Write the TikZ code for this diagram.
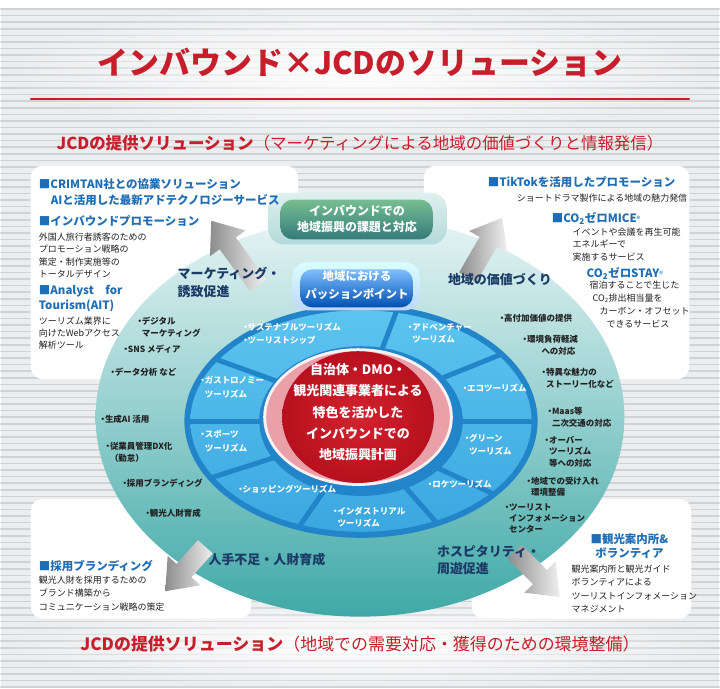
\documentclass[tikz,border=0pt]{standalone}
\usepackage{fontspec}
\setmainfont{Noto Sans CJK JP}
\usetikzlibrary{fadings}
\definecolor{jcdred}{HTML}{C81E2B}
\definecolor{navy}{HTML}{1B3A66}
\definecolor{headblue}{HTML}{1F6DB5}
\definecolor{ink}{HTML}{222222}
\definecolor{ringdark}{HTML}{2285C9}
\definecolor{ringlight}{HTML}{5CC4F0}
\definecolor{ringmid}{HTML}{3BA7E0}
\definecolor{tealdark}{HTML}{3FA9A7}
\definecolor{tealmid}{HTML}{9DD3D2}
\definecolor{tealpale}{HTML}{E6F4F4}
\definecolor{stripebg}{HTML}{ECEDEE}
\definecolor{stripeln}{HTML}{D0D2D4}
\definecolor{redin}{HTML}{D2232F}
\definecolor{redout}{HTML}{B8101E}
\definecolor{redlobe}{HTML}{E9A0A8}
\newcommand\fs[2]{\fontsize{#1}{#2}\selectfont}
\newcommand\dotb{\hbox to .5em{\hss ・\hss}}
\newcommand\ind{\hspace*{.5em}}
\newcommand\regd{{\fontsize{8}{8}\selectfont\mdseries ®}}
\newcommand\outarrow[3]{% tail, angle, length
  \begin{scope}[shift={(#1)}, rotate=#2]
    \shade[outarrow] (0,-10) -- (#3-28,-10) -- (#3-28,-22) -- (#3,0) -- (#3-28,22) -- (#3-28,10) -- (0,10) -- cycle;
  \end{scope}}
\tikzfading[name=glow, inner color=transparent!0, outer color=transparent!100]

\begin{document}
\begin{tikzpicture}[x=1pt, y=-1pt, line join=round, line cap=round,
    head/.style={text=headblue, font=\fs{11.5}{15}\bfseries, anchor=north west, align=left, inner sep=0},
    body/.style={text=ink, font=\fs{9}{12.5}, anchor=north west, align=left, inner sep=0},
    bullet/.style={text=ink, font=\fs{8.5}{11.5}\bfseries, anchor=north west, align=left, inner sep=0},
    theme/.style={text=navy, font=\fs{13}{18}\bfseries, anchor=north west, align=left, inner sep=0},
    seglabel/.style={text=white, font=\fs{8.5}{12.5}\bfseries, anchor=north west, align=left, inner sep=0},
    panel/.style={fill=white, rounded corners=12},
    outarrow/.style={left color=black!45, right color=black!6},
  ]
  % fond rayé
  \fill[stripebg] (0,0) rectangle (720,682);
  \foreach \y in {1,7.6,...,682}
    \draw[stripeln, line width=1.6pt] (0,\y) -- (720,\y);
  \fill[white, path fading=glow] (360,62) ellipse [x radius=360, y radius=70];
  \fill[white, path fading=glow] (360,637) ellipse [x radius=360, y radius=45];

  % titre
  \node[text=jcdred, font=\fs{31}{31}\bfseries] (title) at (360,55) {インバウンド×JCDのソリューション};
  \draw[jcdred, line width=1.8pt] (30,91) -- (690,91);
  \node[text=jcdred, font=\fs{16.5}{18}] (subtop) at (360,136) {{\bfseries JCDの提供ソリューション}（マーケティングによる地域の価値づくりと情報発信）};
  \node[text=jcdred, font=\fs{17}{18}] (subbot) at (360,637) {{\bfseries JCDの提供ソリューション}（地域での需要対応・獲得のための環境整備）};

  % panneaux blancs
  \fill[panel] (30,158) rectangle (298,372);
  \fill[panel] (424,158) rectangle (690,372);
  \fill[panel] (30,492) rectangle (251,612);
  \fill[panel] (472,492) rectangle (692,612);

  % grande ellipse turquoise
  \coordinate (bigc) at (360,410);
  \shade[top color=tealpale, middle color=tealmid, bottom color=tealdark] (bigc) ellipse [x radius=265, y radius=200];

  % flèches grises
  \outarrow{258,278}{126}{80}
  \outarrow{468,270}{60}{69}
  \outarrow{205,540}{228}{60}
  \outarrow{515,545}{-45}{64}

  % anneau bleu
  \coordinate (ringc) at (361,414);
  \fill[ringdark] (ringc) ellipse [x radius=177, y radius=117];
  \shade[top color=ringlight, bottom color=ringmid] (ringc) ellipse [x radius=171, y radius=111];
  \foreach \a in {-78,-36,0,40,64,111,150,180,-147}
    \draw[ringdark, line width=5pt, shift={(ringc)}] (\a:100 and 73) -- (\a:174 and 114);
  \fill[ringdark] (ringc) ellipse [x radius=102, y radius=75];

  % centre rouge
  \coordinate (redc) at (358,410);
  \fill[white!85!redlobe] (redc) ellipse [x radius=95, y radius=69];
  \fill[redlobe] (redc) ellipse [x radius=92, y radius=66];
  \shade[inner color=redin, outer color=redout] (redc) ellipse [x radius=76, y radius=66];
  \node[text=white, font=\fs{13}{21.5}\bfseries, align=center] (plan) at (358,405)
    {自治体・DMO・\\観光関連事業者による\\特色を活かした\\インバウンドでの\\地域振興計画};

  % boutons du haut
  \shade[top color=white!70!teal!40, bottom color=teal!30!white, rounded corners=16] (268,185) rectangle (447,237);
  \shade[top color=teal!55!green!45!white!85!black, bottom color=teal!70!black!80, rounded corners=13] (280,192) rectangle (433,232);
  \node[text=white, font=\fs{12}{16}\bfseries, align=center] (issue) at (357,211) {インバウンドでの\\地域振興の課題と対応};
  \shade[top color=cyan!15!white, bottom color=cyan!35!blue!25, rounded corners=15] (292,255) rectangle (420,303);
  \shade[top color=cyan!50!blue!50, bottom color=blue!55!cyan!70!black, rounded corners=12] (300,262) rectangle (413,300);
  \node[text=white, font=\fs{11.5}{18}\bfseries, align=center] (passion) at (357,278) {地域における\\パッションポイント};

  % segments de l'anneau
  \node[seglabel] (sust) at (243,316) {\dotb サステナブルツーリズム\\\dotb ツーリストシップ};
  \node[seglabel] (adv) at (408,316) {\dotb アドベンチャー\\\ind ツーリズム};
  \node[seglabel] (eco) at (463,377) {\dotb エコツーリズム};
  \node[seglabel] (green) at (465,427) {\dotb グリーン\\\ind ツーリズム};
  \node[seglabel] (loca) at (428,473) {\dotb ロケツーリズム};
  \node[seglabel] (indus) at (333,500) {\dotb インダストリアル\\\ind ツーリズム};
  \node[seglabel] (shop) at (238,478) {\dotb ショッピングツーリズム};
  \node[seglabel, font=\fs{8.5}{14}\bfseries] (sport) at (200,423) {\dotb スポーツ\\\ind ツーリズム};
  \node[seglabel, font=\fs{8.5}{14}\bfseries] (gastro) at (200,369) {\dotb ガストロノミー\\\ind ツーリズム};

  % thèmes
  \node[theme] (mkt) at (177,260) {マーケティング・\\誘致促進};
  \node[theme] (value) at (448,266) {地域の価値づくり};
  \node[theme] (staff) at (208,546) {人手不足・人財育成};
  \node[theme] (hosp) at (437,538) {ホスピタリティ・\\周遊促進};

  % puces à gauche
  \node[bullet] (digi) at (137,310) {\dotb デジタル\\\ind マーケティング};
  \node[bullet] (sns) at (123,338) {\dotb SNS メディア};
  \node[bullet] (data) at (110,361) {\dotb データ分析 など};
  \node[bullet] (genai) at (100,408) {\dotb 生成AI 活用};
  \node[bullet] (dx) at (105,435) {\dotb 従業員管理DX化\\\ind（勤怠）};
  \node[bullet] (brand) at (122,472) {\dotb 採用ブランディング};
  \node[bullet] (talent) at (145,502) {\dotb 観光人財育成};

  % puces à droite
  \node[bullet] (hival) at (500,307) {\dotb 高付加価値の提供};
  \node[bullet] (env) at (523,328) {\dotb 環境負荷軽減\\\hspace*{2.2em}への対応};
  \node[bullet] (story) at (542,361) {\dotb 特異な魅力の\\\ind ストーリー化など};
  \node[bullet] (maas) at (548,400) {\dotb Maas等\\\ind 二次交通の対応};
  \node[bullet] (over) at (545,429) {\dotb オーバー\\\ind ツーリズム\\\ind 等への対応};
  \node[bullet] (accept) at (527,470) {\dotb 地域での受け入れ\\\ind 環境整備};
  \node[bullet, font=\fs{8.5}{11}\bfseries] (info) at (505,497) {\dotb ツーリスト\\\ind インフォメーション\\\ind センター};

  % panneau haut gauche
  \node[head] (crim) at (38,171) {■CRIMTAN社との協業ソリューション};
  \node[head] (crimsub) at (50,187) {AIと活用した最新アドテクノロジーサービス};
  \node[head] (promo) at (38,208) {■インバウンドプロモーション};
  \node[body] (promotx) at (38,225) {外国人旅行者誘客のための\\プロモーション戦略の\\策定・制作実施等の\\トータルデザイン};
  \node[head] (ait) at (38,278) {■Analyst\hspace{1em}for\\Tourism(AIT)};
  \node[body, font=\fs{9}{12}] (aittx) at (38,309) {ツーリズム業界に\\向けたWebアクセス\\解析ツール};

  % panneau haut droite
  \node[head] (tiktok) at (488,169) {■TikTokを活用したプロモーション};
  \node[body] (tiktoktx) at (517,186) {ショートドラマ製作による地域の魅力発信};
  \node[head] (mice) at (552,205) {■CO\textsubscript{2}ゼロMICE\regd};
  \node[body] (micetx) at (573,220) {イベントや会議を再生可能\\エネルギーで\\実施するサービス};
  \node[head] (stay) at (587,260) {CO\textsubscript{2}ゼロSTAY\regd};
  \node[body, font=\fs{9}{13}] (staytx) at (590,273) {宿泊することで生じた\\\hspace*{3pt}CO\textsubscript{2}排出相当量を\\\hspace*{10pt}カーボン・オフセット\\\hspace*{17pt}できるサービス};

  % panneau bas gauche
  \node[head] (recruit) at (38,553) {■採用ブランディング};
  \node[body, font=\fs{9}{13.5}] (recruittx) at (38,569) {観光人財を採用するための\\ブランド構築から\\コミュニケーション戦略の策定};

  % panneau bas droite
  \node[head, anchor=north, align=center, font=\fs{11.5}{14}\bfseries] (desk) at (630,527) {■観光案内所\&\\ボランティア};
  \node[body, font=\fs{9}{13.3}] (desktx) at (572,558) {観光案内所と観光ガイド\\ボランティアによる\\ツーリストインフォメーション\\マネジメント};
\end{tikzpicture}
\end{document}
